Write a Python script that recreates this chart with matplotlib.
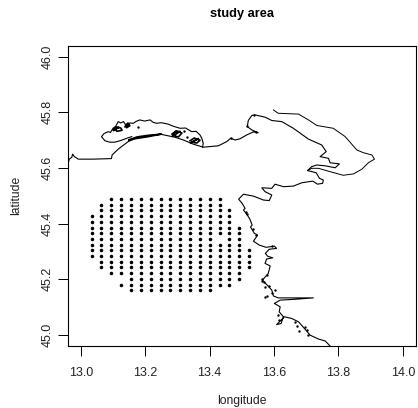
from matplotlib import pyplot as plt

plt.rcParams["font.family"] = ["Liberation Sans", "DejaVu Sans"]

# Sampling grid
grid_lon = [13.034, 13.064, 13.095, 13.125, 13.156, 13.186, 13.217, 13.248, 13.278,
            13.309, 13.339, 13.370, 13.400, 13.431, 13.461, 13.492, 13.522]
grid_lat = [45.489, 45.468, 45.448, 45.427, 45.407, 45.386, 45.366, 45.345, 45.325,
            45.304, 45.284, 45.263, 45.243, 45.222, 45.202, 45.181, 45.161]
first_row = [3, 1, 0, 0, 0, 0, 0, 0, 0, 0, 0, 0, 0, 0, 2, 5, 9]
last_row = [10, 12, 13, 13, 16, 16, 16, 16, 16, 16, 16, 16, 16, 15, 15, 14, 12]
extra_cells = [(3, 15)]
missing_cells = [(13, 7)]

# Main coastline
coast_lon = [12.962, 12.964, 12.972, 12.974, 12.980, 12.992, 13.038, 13.095, 13.097, 13.116,
             13.147, 13.168, 13.204, 13.246, 13.271, 13.292, 13.318, 13.349, 13.380, 13.427,
             13.453, 13.465, 13.479, 13.494, 13.515, 13.536, 13.551, 13.531, 13.517, 13.520,
             13.531, 13.541, 13.572, 13.593, 13.624, 13.660, 13.707, 13.748, 13.762, 13.743,
             13.769, 13.774, 13.803, 13.790, 13.759, 13.733, 13.717, 13.704, 13.731, 13.741,
             13.753, 13.751, 13.735, 13.720, 13.686, 13.660, 13.629, 13.603, 13.593, 13.562,
             13.572, 13.593, 13.585, 13.567, 13.536, 13.505, 13.490, 13.501, 13.510, 13.505,
             13.517, 13.525, 13.532, 13.527, 13.539, 13.549, 13.536, 13.554, 13.575, 13.601,
             13.608, 13.585, 13.573, 13.580, 13.596, 13.577, 13.572, 13.588, 13.582, 13.564,
             13.577, 13.593, 13.598, 13.613, 13.722, 13.665, 13.619, 13.601, 13.619, 13.616,
             13.629, 13.622, 13.608, 13.622, 13.632, 13.655, 13.676, 13.696, 13.712, 13.738,
             13.759, 13.774]
coast_lat = [45.623, 45.632, 45.639, 45.650, 45.641, 45.632, 45.632, 45.634, 45.647, 45.668,
             45.695, 45.706, 45.716, 45.722, 45.716, 45.711, 45.701, 45.686, 45.675, 45.680,
             45.695, 45.707, 45.701, 45.705, 45.719, 45.730, 45.727, 45.737, 45.749, 45.771,
             45.789, 45.791, 45.783, 45.771, 45.767, 45.743, 45.704, 45.683, 45.659, 45.641,
             45.635, 45.619, 45.615, 45.601, 45.608, 45.611, 45.605, 45.591, 45.583, 45.563,
             45.557, 45.545, 45.542, 45.553, 45.547, 45.535, 45.533, 45.542, 45.527, 45.529,
             45.515, 45.503, 45.483, 45.485, 45.499, 45.506, 45.488, 45.473, 45.455, 45.449,
             45.431, 45.416, 45.395, 45.388, 45.365, 45.359, 45.337, 45.323, 45.315, 45.319,
             45.311, 45.308, 45.293, 45.283, 45.277, 45.273, 45.257, 45.248, 45.221, 45.197,
             45.181, 45.161, 45.140, 45.133, 45.133, 45.128, 45.125, 45.113, 45.101, 45.083,
             45.065, 45.041, 45.037, 45.053, 45.065, 45.059, 45.047, 45.021, 44.999, 44.985,
             44.978, 44.960]

# Outer shoreline of the gulf
outer_lon = [13.598, 13.613, 13.676, 13.707, 13.733, 13.784, 13.821, 13.857, 13.878, 13.904,
             13.912, 13.893, 13.873, 13.847, 13.815, 13.774, 13.738, 13.717, 13.704]
outer_lat = [45.809, 45.797, 45.794, 45.773, 45.753, 45.743, 45.713, 45.665, 45.655, 45.647,
             45.632, 45.619, 45.596, 45.579, 45.574, 45.587, 45.599, 45.599, 45.591]

# Lagoon outline
lagoon_lon = [13.158, 13.147, 13.121, 13.105, 13.090, 13.075, 13.064, 13.072, 13.085, 13.092, 13.100,
              13.108, 13.116, 13.124, 13.132, 13.140, 13.152, 13.163, 13.172, 13.183, 13.198, 13.215,
              13.225, 13.235, 13.250, 13.271, 13.288, 13.308, 13.325, 13.344, 13.358, 13.370, 13.376,
              13.380, 13.378]
lagoon_lat = [45.713, 45.709, 45.698, 45.693, 45.693, 45.698, 45.713, 45.724, 45.731, 45.728, 45.743,
              45.750, 45.767, 45.762, 45.767, 45.755, 45.762, 45.761, 45.768, 45.773, 45.769, 45.773,
              45.764, 45.761, 45.763, 45.758, 45.750, 45.743, 45.744, 45.731, 45.732, 45.719, 45.706,
              45.689, 45.675]

# Islands and marsh channels in the lagoon
islands = [
    ([13.100, 13.110, 13.124, 13.128, 13.112, 13.104, 13.118, 13.102],
     [45.738, 45.748, 45.744, 45.736, 45.732, 45.743, 45.746, 45.735]),
    ([13.137, 13.146, 13.152, 13.142, 13.148, 13.139],
     [45.748, 45.762, 45.752, 45.745, 45.758, 45.755]),
    ([13.283, 13.296, 13.314, 13.303, 13.288, 13.308, 13.292, 13.284],
     [45.722, 45.734, 45.726, 45.712, 45.716, 45.732, 45.728, 45.714]),
    ([13.339, 13.352, 13.370, 13.360, 13.344, 13.365, 13.341],
     [45.698, 45.708, 45.700, 45.690, 45.693, 45.706, 45.690]),
    ([13.150, 13.175, 13.205, 13.250, 13.205, 13.170, 13.150],
     [45.702, 45.712, 45.717, 45.722, 45.712, 45.706, 45.700]),
]

# Small rocks along the coast
rock_lon = [13.564, 13.570, 13.562, 13.577, 13.572, 13.585, 13.577, 13.572, 13.603, 13.593,
            13.613, 13.616, 13.670, 13.676, 13.702, 13.707, 13.696, 13.665, 13.514, 13.515,
            13.534, 13.544, 13.594, 13.538, 13.517, 13.466, 13.545, 13.178, 13.320, 13.330]
rock_lat = [45.201, 45.189, 45.193, 45.215, 45.173, 45.176, 45.140, 45.137, 45.161, 45.149,
            45.071, 45.053, 45.032, 45.013, 45.017, 44.999, 45.029, 45.047, 45.443, 45.435,
            45.379, 45.359, 45.319, 45.791, 45.751, 45.707, 45.729, 45.748, 45.735, 45.712]

x_ticks = [13.0, 13.2, 13.4, 13.6, 13.8, 14.0]
y_ticks = [45.0, 45.2, 45.4, 45.6, 45.8, 46.0]

grid_x = []
grid_y = []
for col, lon in enumerate(grid_lon):
    for row, lat in enumerate(grid_lat):
        inside = first_row[col] <= row <= last_row[col]
        if (inside or (col, row) in extra_cells) and (col, row) not in missing_cells:
            grid_x.append(lon)
            grid_y.append(lat)

# Plotting
fig = plt.figure(figsize=(4.18, 4.08), dpi=100)
ax = fig.add_axes([68 / 418, 62 / 408, 347.7 / 418, 300.3 / 408])

ax.plot(coast_lon, coast_lat, color="black", lw=0.8)
ax.plot(outer_lon, outer_lat, color="black", lw=0.7)
ax.plot(lagoon_lon, lagoon_lat, color="black", lw=0.8)
for island_lon, island_lat in islands:
    ax.plot(island_lon, island_lat, color="black", lw=1.2)
ax.scatter(rock_lon, rock_lat, color="black", s=3, linewidths=0)
ax.scatter(grid_x, grid_y, color="black", s=6.5, linewidths=0)

ax.set_xlim(12.96, 14.04)
ax.set_ylim(44.96, 46.04)
ax.set_xticks(x_ticks, [f"{t:.1f}" for t in x_ticks])
ax.set_yticks(y_ticks, [f"{t:.1f}" for t in y_ticks])
ax.tick_params(axis="x", labelsize=9, length=7, width=0.7, pad=8, labelcolor="#222222")
ax.tick_params(axis="y", labelsize=9, length=7, width=0.7, pad=3, labelcolor="#222222")
for label in ax.get_yticklabels():
    label.set_rotation(90)
    label.set_verticalalignment("center")
for spine in ax.spines.values():
    spine.set_linewidth(0.8)

ax.set_xlabel("longitude", fontsize=8.7, labelpad=11.5, color="#222222")
ax.set_ylabel("latitude", fontsize=8.7, labelpad=14.5, color="#222222")
ax.set_title("study area", fontsize=9.2, fontweight="bold", pad=20.5)

fig.savefig("out.png", dpi=100)
